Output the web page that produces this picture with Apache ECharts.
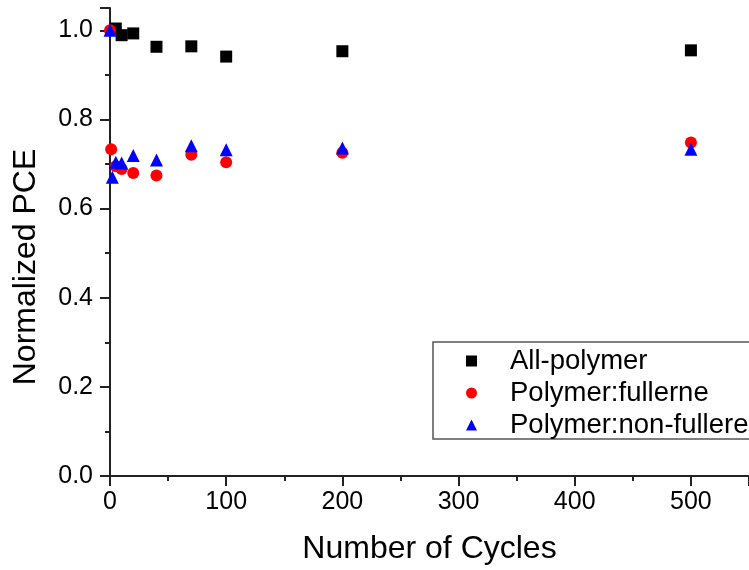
<!DOCTYPE html>
<html>
<head>
<meta charset="utf-8">
<script src="https://cdn.jsdelivr.net/npm/echarts@6/dist/echarts.min.js"></script>
<style>
html,body{margin:0;padding:0;background:#fff;}
#chart{width:749px;height:570px;}
</style>
</head>
<body>
<div id="chart"></div>
<script>
const seriesNames = ['All-polymer', 'Polymer:fullerne', 'Polymer:non-fullerene'];
const allPolymerX = [5, 10, 20, 40, 70, 100, 200, 500];
const allPolymerY = [1.004, 0.989, 0.993, 0.963, 0.964, 0.941, 0.953, 0.955];
const fullereneX = [0, 1, 5, 10, 20, 40, 70, 100, 200, 500];
const fullereneY = [1.0, 0.733, 0.695, 0.689, 0.680, 0.674, 0.721, 0.704, 0.725, 0.748];
const nonFullereneX = [0, 2, 5, 10, 20, 40, 70, 100, 200, 500];
const nonFullereneY = [1.0, 0.670, 0.704, 0.702, 0.719, 0.709, 0.741, 0.732, 0.736, 0.733];
const xTicks = [0, 100, 200, 300, 400, 500];
const yTicks = [0.0, 0.2, 0.4, 0.6, 0.8, 1.0];

function pairs(xs, ys) { return xs.map((x, i) => [x, ys[i]]); }

const chart = echarts.init(document.getElementById('chart'), null, {renderer: 'canvas'});
const font = 'Liberation Sans, Arial, sans-serif';
const axisColor = '#222';
chart.setOption({
  animation: false,
  backgroundColor: '#fff',
  grid: {left: 110, top: 8, right: -4, bottom: 90, containLabel: false},
  xAxis: {
    type: 'value', min: 0, max: 550, interval: 100,
    name: 'Number of Cycles', nameLocation: 'middle', nameGap: 57,
    nameTextStyle: {fontFamily: font, fontSize: 32, color: '#000'},
    axisLine: {show: true, onZero: false, lineStyle: {color: axisColor, width: 2}},
    axisTick: {show: true, inside: false, length: 10, lineStyle: {color: axisColor, width: 2}},
    minorTick: {show: true, splitNumber: 2, length: 5, lineStyle: {color: axisColor, width: 2}},
    axisLabel: {fontFamily: font, fontSize: 25, color: '#000', margin: 14, showMaxLabel: false,
      formatter: v => xTicks.includes(v) ? String(v) : ''},
    splitLine: {show: false}
  },
  yAxis: {
    type: 'value', min: 0, max: 1.05, interval: 0.2,
    name: 'Normalized PCE', nameLocation: 'middle', nameGap: 68,
    nameTextStyle: {fontFamily: font, fontSize: 32, color: '#000', padding: [0, 50, 0, 0]},
    axisLine: {show: true, onZero: false, lineStyle: {color: axisColor, width: 2}},
    axisTick: {show: true, inside: false, length: 10, lineStyle: {color: axisColor, width: 2}},
    minorTick: {show: true, splitNumber: 2, length: 5, lineStyle: {color: axisColor, width: 2}},
    axisLabel: {fontFamily: font, fontSize: 25, color: '#000', margin: 17, showMaxLabel: false,
      formatter: v => yTicks.some(t => Math.abs(t - v) < 1e-9) ? v.toFixed(1) : ''},
    splitLine: {show: false}
  },
  legend: {
    orient: 'vertical', left: 433, top: 342,
    padding: [5, 120, 0, 33], itemGap: 4, itemWidth: 11, itemHeight: 11,
    backgroundColor: '#fff', borderColor: '#555', borderWidth: 1.5,
    textStyle: {fontFamily: font, fontSize: 27.5, color: '#000', padding: [0, 0, 0, 28]},
    data: seriesNames
  },
  series: [
    {name: seriesNames[0], type: 'scatter', symbol: 'rect', symbolSize: 12,
     itemStyle: {color: '#000', opacity: 1}, data: pairs(allPolymerX, allPolymerY)},
    {name: seriesNames[1], type: 'scatter', symbol: 'circle', symbolSize: 12,
     itemStyle: {color: '#ff0000', opacity: 1}, data: pairs(fullereneX, fullereneY)},
    {name: seriesNames[2], type: 'scatter', symbol: 'triangle', symbolSize: 13,
     itemStyle: {color: '#0000ff', opacity: 1}, data: pairs(nonFullereneX, nonFullereneY)}
  ]
});
</script>
</body>
</html>
